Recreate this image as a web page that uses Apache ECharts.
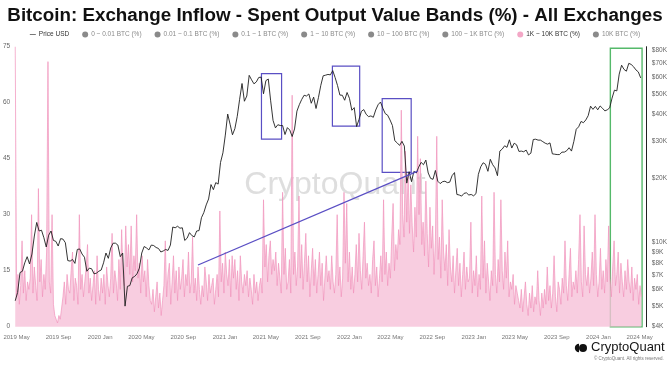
<!DOCTYPE html>
<html><head><meta charset="utf-8">
<script src="https://cdn.jsdelivr.net/npm/echarts@6/dist/echarts.min.js"></script>
<style>html,body{margin:0;padding:0;background:#fff}#c{width:670px;height:371px}</style>
</head><body><div id="c"></div>
<script>
// ---------- DATA ----------
const startDate = '2019-04-27';
const axisEndDate = '2024-05-19';
const priceStepDays = 7;   // weekly price samples
const bandStepDays = 4;    // band samples every 4 days

const priceUSD = [
 // 2019
 5300,5800,7200,7300,8000,8550,7900,8800,10700,12400,11300,11400,10500,9500,10800,11300,10200,10100,9600,10400,10350,9950,8200,8150,8300,7950,9250,9300,8800,8500,7300,7550,7500,7100,7150,7300,
 // 2020
 7400,8000,8900,8400,9400,9900,9900,9700,8550,8900,5000,6200,6250,6800,6900,7100,7550,8900,9550,9400,9200,9700,9650,9450,9350,9000,9100,9250,9150,9700,11800,11700,11900,11650,11700,10200,10450,11100,10750,10600,11300,11350,13050,13800,15000,16000,18700,17700,19100,18800,23800,26400,
 // 2021
 32000,40200,36000,32100,34300,39200,47200,56000,46200,48900,61200,58300,55800,57000,59800,60000,50100,57800,58800,46400,37500,34600,35800,35500,35500,32200,34700,33800,31500,34200,41500,44500,47100,49300,48900,50000,45200,48300,42700,48000,54900,60900,61300,61800,61500,64400,59700,54800,49400,49300,46700,50800,
 // 2022
 47700,41900,43100,35100,37900,41400,42200,40100,39100,39400,38800,42000,44500,45800,42800,40400,39700,37700,35500,30100,29400,28600,29900,28400,19000,21500,19300,21600,21200,22600,23800,23200,24400,21200,20000,19800,21800,19400,18900,19300,19400,19100,19200,20600,21300,16800,16700,16500,17000,17100,16700,16800,16550,
 // 2023
 16950,20900,22700,23700,23300,21600,24600,23200,22400,20600,26900,27500,28500,28000,30400,27800,29300,28800,26800,26900,26700,27200,25800,26300,30500,30600,30300,30300,29800,29300,29000,29400,26100,26000,25900,25900,26600,26600,27000,27900,26900,29900,34100,35000,37100,36600,37700,39500,43800,42300,43700,42100,
 // 2024
 43900,42800,41600,42100,43000,47800,52100,51700,62000,68300,65300,64000,69700,68900,67200,64900,63500,59500
];

const band1k10k = [
 75,8,14,6,11,23,9,15,7,12,
 10,13,30,9,16,11,7,37,12,18,
 8,14,10,20,71,12,9,30,6,3,
 2,1,3,2,5,8,12,6,14,10,
 9,15,20,7,13,11,6,30,10,14,
 8,12,16,22,9,13,7,11,15,6,
 19,10,7,13,9,14,6,16,11,8,
 13,25,9,15,12,7,18,10,26,14,
 11,27,16,22,14,27,12,19,15,30,
 13,17,9,19,12,15,8,18,11,7,
 6,10,4,8,12,5,9,3,7,11,
 23,8,14,17,6,12,19,9,15,7,
 16,10,13,18,8,14,11,20,9,12,
 24,9,13,7,16,10,6,11,8,16,
 12,7,14,9,11,13,6,10,14,8,
 31,12,17,9,20,14,11,18,8,19,
 13,18,10,15,7,19,12,9,14,11,
 15,8,13,10,6,14,9,12,7,11,
 13,9,34,16,22,12,19,23,14,18,
 15,20,11,17,13,9,36,14,21,10,
 12,18,9,62,14,20,11,16,35,13,
 22,10,17,25,12,19,8,15,21,11,
 18,9,14,20,11,17,7,13,19,12,
 15,10,19,12,9,14,30,11,16,8,
 13,36,17,33,12,20,10,16,9,14,
 22,12,25,15,10,19,28,13,17,11,
 14,9,18,23,11,16,8,13,19,12,
 34,14,20,11,17,13,24,33,15,22,
 18,26,22,58,30,24,47,28,41,25,
 38,27,20,32,24,51,30,45,22,28,
 19,39,25,16,32,21,27,14,23,51,
 18,24,13,34,20,15,22,11,26,16,
 12,19,9,15,21,11,17,8,14,20,
 10,16,12,13,28,9,15,11,19,8,
 14,10,35,13,23,9,17,12,7,15,
 11,36,14,9,18,12,34,15,10,20,
 13,23,8,12,10,14,6,11,9,7,
 5,10,4,8,12,6,3,9,5,11,
 4,8,6,15,7,3,9,5,10,6,
 16,7,11,5,9,19,8,4,12,10,
 6,13,9,23,11,7,14,21,8,12,
 10,15,9,18,30,12,8,27,14,11,
 16,9,13,20,11,30,14,8,12,21,
 10,15,9,18,12,27,13,8,16,23,
 11,14,20,9,17,12,8,15,10,18,
 12,9,16,7,13,10,14,6,11,8
];

const inactiveBands = ['0 ~ 0.01 BTC (%)','0.01 ~ 0.1 BTC (%)','0.1 ~ 1 BTC (%)','1 ~ 10 BTC (%)','10 ~ 100 BTC (%)','100 ~ 1K BTC (%)'];
const activeBand = '1K ~ 10K BTC (%)';
const lastBand = '10K BTC (%)';
const priceTicks = [4000,5000,6000,7000,8000,9000,10000,20000,30000,40000,50000,60000,70000,80000];
const monthNames = ['Jan','Feb','Mar','Apr','May','Jun','Jul','Aug','Sep','Oct','Nov','Dec'];

// annotation boxes: [startDate, endDate, highPrice, lowPrice]
const purpleBoxes = [
 ['2021-04-18','2021-06-16',62400,30650],
 ['2021-11-12','2022-01-31',67700,35300],
 ['2022-04-07','2022-07-01',47500,21360]
];
const trendLine = [['2020-10-14',7815],['2022-07-20',21660]];
const greenBox = ['2024-02-05','2024-05-08',74.6,-0.6];

// ---------- BUILD ----------
function ymd(t){const d=new Date(t);return d.toISOString().slice(0,10);}
const t0 = Date.parse(startDate+'T00:00:00Z');
const tEnd = Date.parse(axisEndDate+'T00:00:00Z');
const DAY = 86400000;
const categories = [];
for(let t=t0;t<=tEnd;t+=DAY) categories.push(ymd(t));
const priceData = priceUSD.map((v,i)=>[ymd(t0+i*priceStepDays*DAY), v]);
const bandData = band1k10k.map((v,i)=>[ymd(t0+i*bandStepDays*DAY), v]);

const chart = echarts.init(document.getElementById('c'));
const legendData = [{name:'Price USD', icon:'path://M0,4 L12,4 L12,5.2 L0,5.2 Z'}]
  .concat(inactiveBands.map(n=>({name:n, icon:'circle'})))
  .concat([{name:activeBand, icon:'circle'},{name:lastBand, icon:'circle'}]);
const selected = {};
inactiveBands.forEach(n=>selected[n]=false); selected[lastBand]=false;

const series = [
  {
    name: activeBand, type:'line', yAxisIndex:0, data: bandData, showSymbol:false, symbol:'none',
    lineStyle:{color:'#f093bb', width:0.7}, itemStyle:{color:'#f3a7c6'},
    areaStyle:{color:'#f6c0d8', opacity:0.8}, z:1, animation:false,
    markArea:{silent:true, data:[[{xAxis:greenBox[0], yAxis:greenBox[2]},{xAxis:greenBox[1], yAxis:greenBox[3]}]],
      itemStyle:{color:'rgba(0,0,0,0)', borderColor:'#55b96a', borderWidth:1.4}}
  },
  {
    name:'Price USD', type:'line', yAxisIndex:1, data: priceData, showSymbol:false, symbol:'none',
    lineStyle:{color:'#1e1e1e', width:0.9}, itemStyle:{color:'#1e1e1e'}, z:3, animation:false,
    markArea:{silent:true, data: purpleBoxes.map(b=>[{xAxis:b[0], yAxis:b[2]},{xAxis:b[1], yAxis:b[3]}]),
      itemStyle:{color:'rgba(0,0,0,0)', borderColor:'#5a4fc4', borderWidth:1.2}},
    markLine:{silent:true, symbol:['none','none'], label:{show:false},
      lineStyle:{color:'#5a4fc4', width:1.3, type:'solid'},
      data:[[{coord:trendLine[0]},{coord:trendLine[1]}]]}
  }
];
inactiveBands.concat([lastBand]).forEach(n=>series.push({name:n,type:'line',yAxisIndex:0,data:[],itemStyle:{color:'#777'}}));

chart.setOption({
  animation:false,
  backgroundColor:'#fff',
  title:{text:'Bitcoin: Exchange Inflow - Spent Output Value Bands (%) - All Exchanges', left:'center', top:1,
    textStyle:{fontFamily:'Liberation Sans', fontWeight:'bold', fontSize:18.8, color:'#111'}},
  legend:{data:legendData, selected:selected, top:26, left:'center', itemWidth:6, itemHeight:6, itemGap:13,
    inactiveColor:'#8a8a8a', textStyle:{fontSize:6.5, color:'#333', fontFamily:'Liberation Sans', padding:[0,0,0,-2]}, selectedMode:true},
  grid:{left:15, right:22, top:46.7, bottom:44.3, containLabel:false},
  xAxis:{type:'category', data:categories, boundaryGap:false,
    axisLine:{show:false}, axisTick:{show:false}, splitLine:{show:false},
    axisLabel:{interval:(i,v)=>{const p=v.split('-');return p[2]==='01'&&(p[1]==='01'||p[1]==='05'||p[1]==='09');},
      formatter:v=>{const p=v.split('-');return p[0]+' '+monthNames[+p[1]-1];},
      fontSize:6, color:'#777', margin:8, fontFamily:'Liberation Sans'}},
  yAxis:[
    {type:'value', min:0, max:75, interval:15, position:'left',
      axisLine:{show:false}, axisTick:{show:false}, splitLine:{show:false},
      axisLabel:{fontSize:6.5, color:'#666', margin:5, fontFamily:'Liberation Sans'}},
    {type:'log', logBase:10, min:4000, max:83500, position:'right',
      axisLine:{show:true, lineStyle:{color:'#222', width:1}}, axisTick:{show:false}, splitLine:{show:false},
      axisLabel:{customValues:priceTicks, formatter:v=>'$'+Math.round(v/1000)+'K', fontSize:6.5, color:'#666', margin:6, fontFamily:'Liberation Sans'}}
  ],
  graphic:[
    {type:'text', left:'center', top:169, silent:true, z:0,
      style:{text:'CryptoQuant', fontSize:32, fontFamily:'Liberation Sans', fill:'rgba(200,200,200,0.6)'}},
    {type:'circle', shape:{cx:583, cy:348, r:4}, style:{fill:'#111'}},
    {type:'sector', shape:{cx:579, cy:348, r:4.2, r0:0, startAngle:Math.PI/2, endAngle:Math.PI*1.5}, style:{fill:'#111'}},
    {type:'text', left:591, top:341, style:{text:'CryptoQuant', fontSize:13, fontFamily:'Liberation Sans', fill:'#151515'}},
    {type:'text', left:594, top:356, style:{text:'© CryptoQuant. All rights reserved.', fontSize:4.5, fontFamily:'Liberation Sans', fill:'#777'}}
  ],
  series:series
});
</script></body></html>
